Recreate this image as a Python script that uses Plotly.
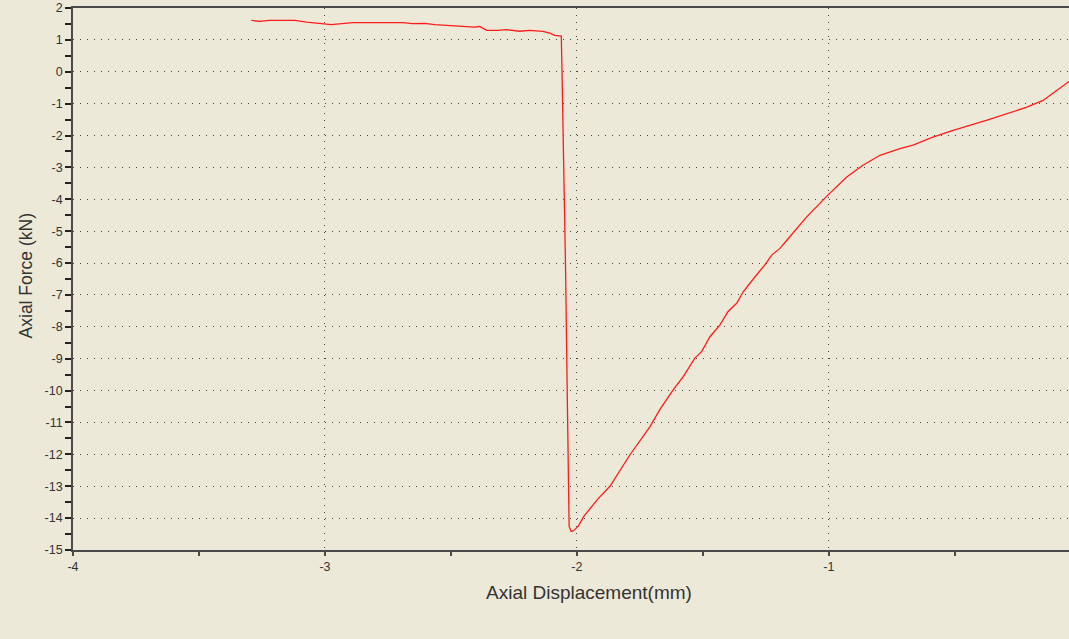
import plotly.graph_objects as go

# Axial displacement (mm) and axial force (kN)
displacement = [-3.292, -3.259, -3.220, -3.180, -3.120, -3.073, -3.014, -2.975, -2.890,
                -2.691, -2.652, -2.604, -2.564, -2.517, -2.477, -2.406, -2.386, -2.358,
                -2.318, -2.278, -2.227, -2.187, -2.135, -2.108, -2.088, -2.068, -2.062,
                -2.060, -2.056, -2.051, -2.045, -2.040, -2.033, -2.031, -2.023, -2.015,
                -1.995, -1.972, -1.919, -1.869, -1.790, -1.710, -1.671, -1.618, -1.578,
                -1.532, -1.505, -1.472, -1.432, -1.400, -1.366, -1.340, -1.293, -1.254,
                -1.227, -1.194, -1.161, -1.115, -1.088, -1.004, -0.929, -0.865, -0.797,
                -0.718, -0.666, -0.587, -0.507, -0.372, -0.294, -0.214, -0.150, -0.095,
                -0.047, -0.020]
force = [1.61, 1.58, 1.61, 1.61, 1.61, 1.56, 1.52, 1.48, 1.54,
         1.54, 1.51, 1.52, 1.48, 1.46, 1.42, 1.40, 1.42, 1.30,
         1.30, 1.32, 1.27, 1.30, 1.27, 1.21, 1.14, 1.11, 1.12,
         0.33, -1.23, -3.75, -6.21, -9.17, -12.52, -14.26, -14.42, -14.40,
         -14.26, -13.94, -13.42, -13.00, -12.02, -11.13, -10.60, -9.98, -9.56,
         -8.98, -8.78, -8.31, -7.94, -7.52, -7.26, -6.90, -6.43, -6.06,
         -5.75, -5.54, -5.23, -4.81, -4.55, -3.87, -3.30, -2.93, -2.62,
         -2.41, -2.30, -2.05, -1.84, -1.52, -1.31, -1.11, -0.90, -0.58,
         -0.32, -0.15]

x_ticks = [-4, -3, -2, -1, 0]
y_ticks = list(range(-15, 3))

BG = "#ECE9D8"
AXIS = "#4a4a4a"
FONT = "Liberation Sans, Arial, sans-serif"

fig = go.Figure()
fig.add_trace(go.Scatter(x=displacement, y=force, mode="lines",
                         line=dict(color="#FF1A1A", width=1.3), showlegend=False))

fig.update_layout(
    width=1069, height=639,
    margin=dict(l=73, r=0, t=8, b=89),
    paper_bgcolor=BG, plot_bgcolor=BG,
    font=dict(family=FONT, color="#333333", size=12),
    annotations=[
        dict(text="Axial Displacement(mm)", xref="paper", yref="paper",
             x=0.518, y=-0.055, xanchor="center", yanchor="top", showarrow=False,
             font=dict(size=19, color="#333333", family=FONT)),
        dict(text="Axial Force (kN)", xref="paper", yref="paper",
             x=-0.035, y=0.505, xanchor="right", yanchor="middle", textangle=-90,
             showarrow=False, font=dict(size=17.5, color="#333333", family=FONT)),
    ],
)

fig.update_xaxes(
    range=[-4, -0.047], tickvals=x_ticks, ticktext=[str(v) for v in x_ticks],
    showline=True, linecolor=AXIS, linewidth=1.6, mirror=True,
    ticks="outside", ticklen=4, tickcolor=AXIS, tickwidth=1.5,
    minor=dict(dtick=0.5, ticks="outside", ticklen=4, tickcolor=AXIS, tickwidth=1.5, showgrid=False),
    showgrid=True, gridcolor="#444444", gridwidth=1, griddash="1px,6px",
    zeroline=False, tickfont=dict(size=12.5, color="#333333"),
)
fig.update_yaxes(
    range=[-15, 2], tickvals=y_ticks, ticktext=[str(v) for v in y_ticks],
    showline=True, linecolor=AXIS, linewidth=1.6,
    ticks="outside", ticklen=6, tickcolor="#222222", tickwidth=1.5,
    minor=dict(dtick=0.5, ticks="outside", ticklen=6, tickcolor="#222222", tickwidth=1.5, showgrid=False),
    showgrid=True, gridcolor="#444444", gridwidth=1, griddash="1px,6px",
    zeroline=False, tickfont=dict(size=12.5, color="#333333"),
)

fig.write_html(
    "out.html",
    config={"displayModeBar": False},
    post_script="document.body.style.margin='0';document.body.style.overflow='hidden';",
)
